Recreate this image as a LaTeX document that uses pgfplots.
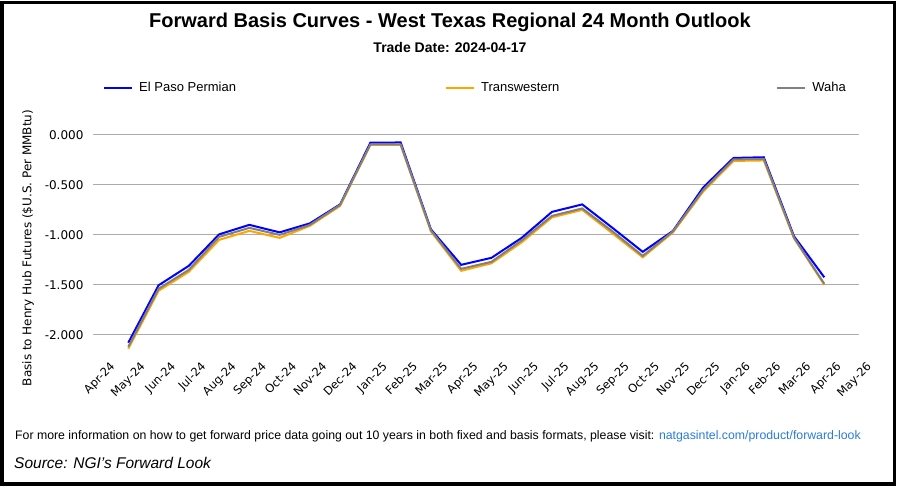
\documentclass[border=0pt]{standalone}
\usepackage{pgfplots}
\pgfplotsset{compat=1.18}
\usepackage{pgfplotstable}
\usepackage{fontspec}
\setmainfont{Liberation Sans}
\newfontfamily\dejavu{DejaVu Sans}
\definecolor{epblue}{HTML}{0000FF}
\definecolor{twor}{HTML}{FFA500}
\definecolor{wgray}{HTML}{808080}
\definecolor{gridc}{HTML}{ABABAB}
\definecolor{linkc}{HTML}{2A7BD6}

% basis by contract month, 1 = May-24 ... 24 = Apr-26
\pgfplotstableread{
idx blue   orange gray
1   -2.080 -2.140 -2.120
2   -1.505 -1.560 -1.540
3   -1.310 -1.370 -1.350
4   -0.995 -1.050 -1.020
5   -0.900 -0.960 -0.930
6   -0.975 -1.030 -1.000
7   -0.885 -0.910 -0.900
8   -0.695 -0.710 -0.700
9   -0.077 -0.100 -0.095
10  -0.075 -0.100 -0.095
11  -0.945 -0.965 -0.955
12  -1.300 -1.360 -1.340
13  -1.230 -1.285 -1.270
14  -1.030 -1.075 -1.055
15  -0.770 -0.825 -0.810
16  -0.695 -0.750 -0.735
17  -0.930 -0.985 -0.965
18  -1.170 -1.225 -1.210
19  -0.960 -0.975 -0.965
20  -0.525 -0.565 -0.550
21  -0.230 -0.260 -0.245
22  -0.223 -0.255 -0.240
23  -1.015 -1.035 -1.030
24  -1.425 -1.500 -1.490
}\basis

\begin{document}
\begin{tikzpicture}[x=1pt,y=1pt]
\path[use as bounding box] (0,0) rectangle (901,491);
\draw[line width=3.5pt] (2,488.5) rectangle (894.5,7);
\node[font=\bfseries\fontsize{20}{24}\selectfont] at (450,469) {Forward Basis Curves - West Texas Regional 24 Month Outlook};
\node[font=\bfseries\fontsize{14}{16}\selectfont] at (450,444) {Trade Date: 2024-04-17};
\node[rotate=90, font=\dejavu\fontsize{12}{14}\selectfont] at (28,243) {Basis to Henry Hub Futures (\$U.S. Per MMBtu)};

\begin{axis}[
    at={(93pt,129pt)}, anchor=south west,
    width=766pt, height=252pt, scale only axis,
    xmin=-0.167, xmax=25.147, ymin=-2.273, ymax=0.25,
    axis line style={draw=none},
    major tick length=0pt,
    xtick={0,...,25},
    xticklabels={Apr-24,May-24,Jun-24,Jul-24,Aug-24,Sep-24,Oct-24,Nov-24,Dec-24,Jan-25,Feb-25,Mar-25,Apr-25,May-25,Jun-25,Jul-25,Aug-25,Sep-25,Oct-25,Nov-25,Dec-25,Jan-26,Feb-26,Mar-26,Apr-26,May-26},
    xticklabel style={rotate=45, anchor=north east, font=\dejavu\fontsize{11.5}{13}\selectfont, xshift=12pt, yshift=-4pt},
    ytick={-2,-1.5,-1,-0.5,0},
    yticklabel style={font=\dejavu\fontsize{12}{14}\selectfont, xshift=-6pt,
        /pgf/number format/.cd, fixed, fixed zerofill, precision=3, assume math mode=true},
    ymajorgrids, grid style={gridc, line width=1pt},
    clip=false,
    legend columns=3,
    legend style={at={(0.0092,1.087)}, anchor=west, draw=none, fill=none,
        font=\fontsize{13}{15}\selectfont,
        nodes={text height=9.5pt, text depth=2.5pt},
        /tikz/column 2/.style={column sep=207pt},
        /tikz/column 4/.style={column sep=215pt}},
    legend image code/.code={\draw[#1] (0pt,0pt) -- (28pt,0pt); \path (32pt,0pt);},
]
\addplot[epblue, line width=2pt] table[x=idx, y=blue] {\basis};
\addlegendentry{El Paso Permian}
\addplot[twor, line width=2pt] table[x=idx, y=orange] {\basis};
\addlegendentry{Transwestern}
\addplot[wgray, line width=2pt] table[x=idx, y=gray] {\basis};
\addlegendentry{Waha}
\end{axis}

\node[anchor=west, inner sep=0pt, font=\fontsize{12.3}{14}\selectfont] at (15,55) {For more information on how to get forward price data going out 10 years in both fixed and basis formats, please visit: \textcolor{linkc}{natgasintel.com/product/forward-look}};
\node[anchor=west, inner sep=0pt, font=\itshape\fontsize{15.5}{19}\selectfont] at (14,28) {Source: NGI's Forward Look};
\end{tikzpicture}
\end{document}
